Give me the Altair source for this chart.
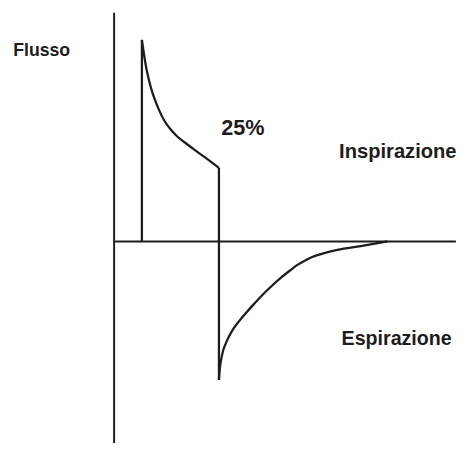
import altair as alt
import pandas as pd

# Flow waveform (time in arbitrary units, flow as fraction of peak)
insp_t = [1.088, 1.135, 1.192, 1.269, 1.365, 1.481, 1.615, 1.769, 1.962, 2.192, 2.462, 2.769, 3.115, 3.488, 3.808, 4.104]
insp_f = [1.0, 0.959, 0.910, 0.854, 0.800, 0.746, 0.697, 0.649, 0.600, 0.559, 0.522, 0.491, 0.458, 0.423, 0.394, 0.365]

exp_t = [4.104, 4.135, 4.192, 4.269, 4.385, 4.512, 4.692, 4.896, 5.154, 5.462, 5.769, 6.115, 6.5, 6.885,
         7.192, 7.462, 7.731, 8.231, 8.742, 9.654, 10.7]
exp_f = [-0.687, -0.634, -0.585, -0.541, -0.502, -0.468, -0.429, -0.395, -0.356, -0.312, -0.270, -0.227,
         -0.183, -0.144, -0.115, -0.095, -0.078, -0.058, -0.042, -0.023, 0.0]

# vertical edges: inspiration onset and switch to expiration
edge_t = [1.088, 1.088, 4.104, 4.104]
edge_f = [0.0, 1.0, 0.365, -0.687]
edge_id = ["onset", "onset", "switch", "switch"]

# axes
axis_x_t = [0.04, 13.38]
axis_y_f = [-1.0, 1.134]

labels = ["Flusso", "25%", "Inspirazione", "Espirazione"]

INK = "#1e1c1c"
X_DOMAIN = [-4.1538, 13.423]
Y_DOMAIN = [-1.0151, 1.1389]

xs = alt.Scale(domain=X_DOMAIN, nice=False, zero=False)
ys = alt.Scale(domain=Y_DOMAIN, nice=False, zero=False)

curve_df = pd.DataFrame({
    "t": insp_t + exp_t,
    "f": insp_f + exp_f,
    "seg": ["insp"] * len(insp_t) + ["exp"] * len(exp_t),
    "o": list(range(len(insp_t))) + list(range(len(exp_t))),
})
edge_df = pd.DataFrame({"t": edge_t, "f": edge_f, "seg": edge_id})

hax = pd.DataFrame({"t": [axis_x_t[0]], "t2": [axis_x_t[1]], "f": [0.0]})
vax = pd.DataFrame({"t": [0.0], "f": [axis_y_f[0]], "f2": [axis_y_f[1]]})

h_axis = alt.Chart(hax).mark_rule(color=INK, strokeWidth=2).encode(
    x=alt.X("t:Q", scale=xs, axis=None), x2="t2:Q", y=alt.Y("f:Q", scale=ys, axis=None)
)
v_axis = alt.Chart(vax).mark_rule(color=INK, strokeWidth=2).encode(
    x=alt.X("t:Q", scale=xs, axis=None), y=alt.Y("f:Q", scale=ys, axis=None), y2="f2:Q"
)

curves = alt.Chart(curve_df).mark_line(color=INK, strokeWidth=2.3, interpolate="monotone").encode(
    x=alt.X("t:Q", scale=xs, axis=None),
    y=alt.Y("f:Q", scale=ys, axis=None),
    detail="seg:N",
    order="o:Q",
)
edges = alt.Chart(edge_df).mark_line(color=INK, strokeWidth=2.3).encode(
    x=alt.X("t:Q", scale=xs, axis=None),
    y=alt.Y("f:Q", scale=ys, axis=None),
    detail="seg:N",
)

FONT = "Liberation Sans, Arial, sans-serif"

def label(i, x, y, size, font=FONT):
    return alt.Chart(pd.DataFrame({"label": [labels[i]]})).mark_text(
        align="left", baseline="alphabetic", font=font, fontWeight="bold",
        fontSize=size, color=INK
    ).encode(x=alt.value(x), y=alt.value(y), text="label:N")

texts = (
    label(0, 5.3, 45.3, 18)
    + label(1, 217, 125.3, 22)
    + label(2, 337, 148.7, 20.5)
    + label(3, 339.5, 338.7, 20)
)

chart = (
    alt.layer(h_axis, v_axis, edges, curves, texts)
    .properties(width=457, height=442, padding=0, autosize=alt.AutoSizeParams(type="none"),
                background="white")
    .configure_view(stroke=None)
)

chart.save("out.html", embed_options={"renderer": "svg", "actions": False})
